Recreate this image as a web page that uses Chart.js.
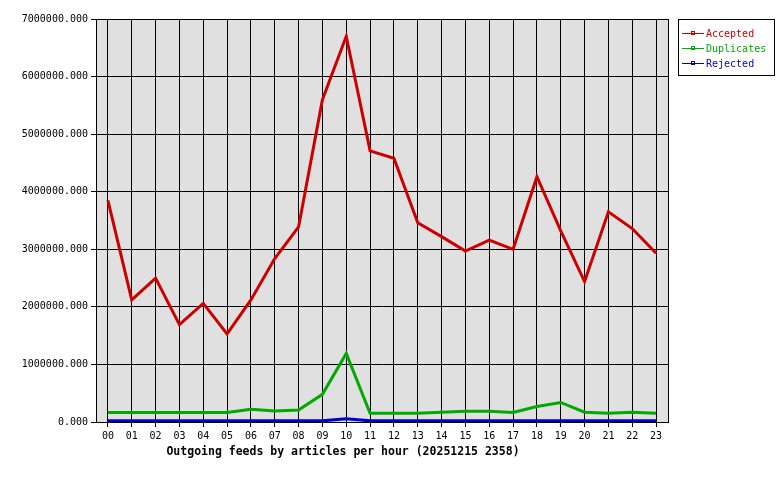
<!DOCTYPE html>
<html>
<head>
<meta charset="utf-8">
<script src="https://cdn.jsdelivr.net/npm/chart.js@4/dist/chart.umd.min.js"></script>
<style>
  body { margin: 0; background: #fff; }
  canvas { display: block; }
</style>
</head>
<body>
<canvas id="feeds" width="780" height="480"></canvas>
<script>
const hours = ['00','01','02','03','04','05','06','07','08','09','10','11',
               '12','13','14','15','16','17','18','19','20','21','22','23'];

// articles per hour
const accepted = [3850000, 2120000, 2500000, 1690000, 2060000, 1530000, 2120000, 2840000,
                  3390000, 5600000, 6700000, 4710000, 4580000, 3460000, 3220000, 2970000,
                  3160000, 3000000, 4260000, 3320000, 2440000, 3650000, 3360000, 2930000];
const duplicates = [165000, 165000, 165000, 165000, 165000, 165000, 220000, 190000,
                    210000, 480000, 1190000, 150000, 150000, 150000, 170000, 185000,
                    185000, 165000, 270000, 340000, 170000, 150000, 170000, 150000];
const rejected = [20000, 20000, 20000, 20000, 20000, 20000, 20000, 20000,
                  20000, 20000, 55000, 20000, 20000, 20000, 20000, 20000,
                  20000, 20000, 20000, 20000, 20000, 20000, 20000, 20000];
const yTicks = [0, 1000000, 2000000, 3000000, 4000000, 5000000, 6000000, 7000000];

const title = 'Outgoing feeds by articles per hour (20251215 2358)';
const mono = "'DejaVu Sans Mono', monospace";

const series = [
  { label: 'Accepted', data: accepted, color: '#cc0000' },
  { label: 'Duplicates', data: duplicates, color: '#00aa00' },
  { label: 'Rejected', data: rejected, color: '#0000cc' }
];

// grey plot background, frame, legend box and title
const decor = {
  id: 'decor',
  beforeDraw(chart) {
    const { ctx, chartArea: a } = chart;
    ctx.save();
    ctx.fillStyle = '#e0e0e0';
    ctx.fillRect(a.left, a.top, a.right - a.left, a.bottom - a.top);
    ctx.restore();
  },
  afterDraw(chart) {
    const { ctx, chartArea: a } = chart;
    ctx.save();
    ctx.strokeStyle = '#000';
    ctx.lineWidth = 1;
    ctx.strokeRect(a.left + 0.5, a.top + 0.5, a.right - a.left, a.bottom - a.top);

    // legend
    ctx.strokeRect(678.5, 19.5, 96, 56);
    ctx.font = '10px ' + mono;
    ctx.textBaseline = 'middle';
    series.forEach((s, i) => {
      const y = 33 + i * 15;
      ctx.strokeStyle = s.color;
      ctx.fillStyle = s.color;
      ctx.beginPath();
      ctx.moveTo(682, y + 0.5);
      ctx.lineTo(704, y + 0.5);
      ctx.stroke();
      ctx.strokeRect(691.5, y - 1.5, 3, 3);
      ctx.fillText(s.label, 706, y + 1);
    });

    // title under the axis
    ctx.fillStyle = '#000';
    ctx.font = 'bold 11.5px ' + mono;
    ctx.textAlign = 'center';
    ctx.fillText(title, 343, 452);
    ctx.restore();
  }
};

new Chart(document.getElementById('feeds'), {
  type: 'line',
  data: {
    labels: hours,
    datasets: series.map(s => ({
      label: s.label,
      data: s.data,
      borderColor: s.color,
      backgroundColor: s.color,
      borderWidth: 3,
      pointRadius: 0,
      tension: 0,
      fill: false
    }))
  },
  options: {
    responsive: false,
    animation: false,
    layout: { padding: { top: 19, right: 112, left: 0, bottom: 0 } },
    plugins: {
      legend: { display: false },
      tooltip: { enabled: false }
    },
    scales: {
      x: {
        offset: true,
        afterFit: s => { s.height = 58; },
        grid: { color: '#000', lineWidth: 1, tickLength: 5, offset: false },
        border: { color: '#000' },
        ticks: { color: '#000', font: { family: mono, size: 10 }, padding: 3, maxRotation: 0, autoSkip: false }
      },
      y: {
        min: 0,
        max: 7000000,
        afterFit: s => { s.width = 96; },
        afterBuildTicks: s => { s.ticks = yTicks.map(v => ({ value: v })); },
        grid: { color: '#000', lineWidth: 1, tickLength: 5 },
        border: { color: '#000' },
        ticks: {
          color: '#000',
          font: { family: mono, size: 10 },
          padding: 3,
          callback: v => v.toFixed(3)
        }
      }
    }
  },
  plugins: [decor]
});
</script>
</body>
</html>
